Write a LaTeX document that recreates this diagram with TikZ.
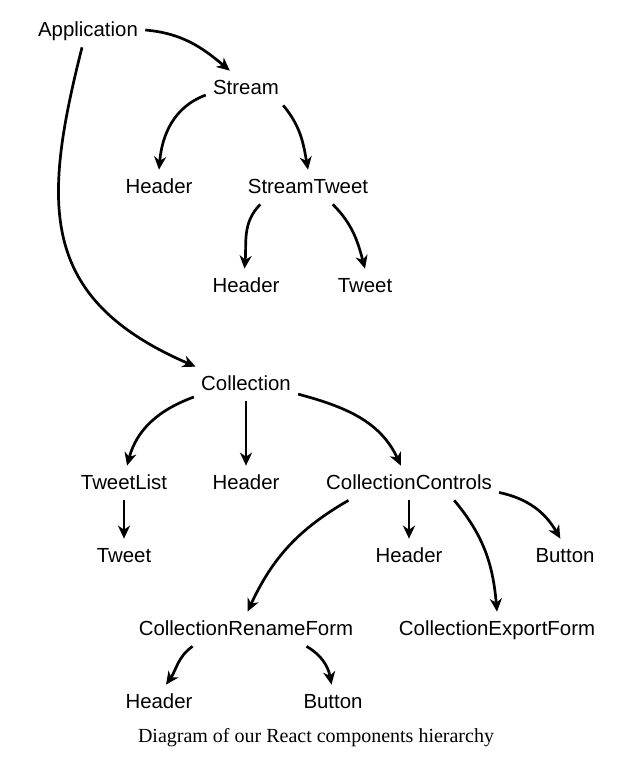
\documentclass[tikz,border=0pt]{standalone}
\usepackage{fontspec}
\setmainfont{Liberation Sans}
\newfontfamily\capfont{Liberation Serif}
\usetikzlibrary{arrows.meta}
\tikzstyle{comp}=[inner sep=3pt,text height=8pt,text depth=2pt,font=\fontsize{10.2}{12}\selectfont]

\begin{document}
\begin{tikzpicture}[x=0.5pt,y=0.5pt,line width=1.35pt,
link/.style={-{Stealth[length=6.5pt,width=6pt,inset=2pt]}},
every edge/.style={draw,link}]
\useasboundingbox (0,0) rectangle (639,-761);
% components
\node [comp] (app) at (88,-30) {Application};
\node [comp] (stream) at (246,-88) {Stream};
\node [comp] (strHeader) at (159,-187) {Header};
\node [comp] (strTweet) at (308,-187) {StreamTweet};
\node [comp] (stHeader) at (246,-286) {Header};
\node [comp] (stTweet) at (365,-286) {Tweet};
\node [comp] (coll) at (246,-384) {Collection};
\node [comp] (tweetList) at (124,-483) {TweetList};
\node [comp] (collHeader) at (246,-483) {Header};
\node [comp] (collCtrl) at (409,-483) {CollectionControls};
\node [comp] (listTweet) at (124,-556) {Tweet};
\node [comp] (ctrlHeader) at (409,-556) {Header};
\node [comp] (ctrlButton) at (565,-556) {Button};
\node [comp] (renameForm) at (246,-629) {CollectionRenameForm};
\node [comp] (exportForm) at (497,-629) {CollectionExportForm};
\node [comp] (renHeader) at (159,-702) {Header};
\node [comp] (renButton) at (333,-702) {Button};
\node [anchor=base,font=\capfont\fontsize{10}{12}\selectfont] (caption) at (316,-742)
    {Diagram of our React components hierarchy};

% hierarchy
\path (app.east) edge[out=-5,in=140] (stream.133);
\draw [link] (app.251) .. controls +(-40,-158) and +(-157,68) .. (coll.161);
\path (stream.190) edge[out=200,in=85] (strHeader.north)
      (stream.-25) edge[out=-50,in=100] (strTweet.north);
\path (strTweet.200) edge[out=225,in=85] (stHeader.95)
      (strTweet.-35) edge[out=-45,in=105] (stTweet.north);
\path (coll.194) edge[out=200,in=75] (tweetList.80)
      (coll.south) edge (collHeader.north)
      (coll.-11) edge[out=-15,in=115] (collCtrl.115);
\path (tweetList.south) edge (listTweet.north);
\path (collCtrl.196) edge[out=210,in=65] (renameForm.85)
      (collCtrl.south) edge (ctrlHeader.north)
      (collCtrl.-21) edge[out=-50,in=95] (exportForm.north)
      (collCtrl.-6) edge[out=-12,in=120] (ctrlButton.105);
\path (renameForm.198) edge[out=215,in=55] (renHeader.68)
      (renameForm.-16.5) edge[out=-30,in=100] (renButton.95);
\end{tikzpicture}
\end{document}
